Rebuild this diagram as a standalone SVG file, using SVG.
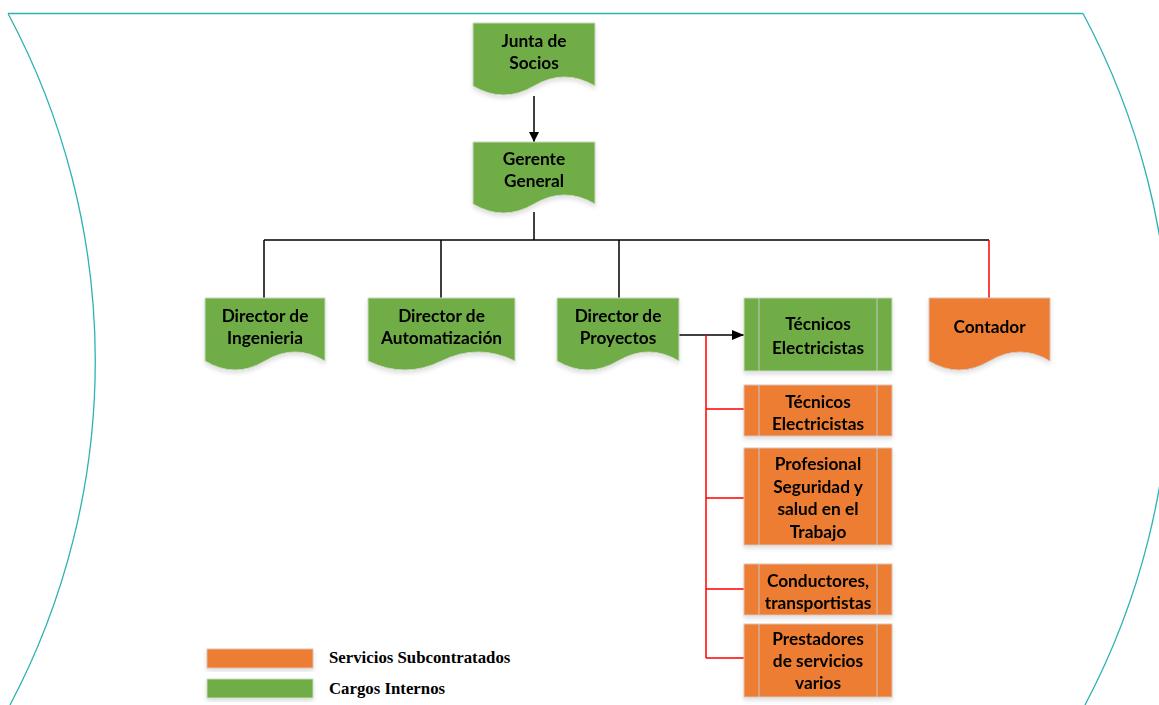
<svg xmlns="http://www.w3.org/2000/svg" width="1159" height="705" viewBox="0 0 1159 705">
<defs>
<style>
.g{fill:#70AD47;stroke:#C9D9BE;stroke-width:1}
.o{fill:#ED7D31;stroke:#D9C2B4;stroke-width:1}
.in{stroke:#C8C8C8;stroke-width:1;fill:none}
.t{font-family:Lato,"Liberation Sans",sans-serif;font-weight:bold;font-size:17.3px;fill:#000;text-anchor:middle;dominant-baseline:central}
.lt{font-family:"Liberation Serif",serif;font-weight:bold;font-size:16.8px;fill:#000}
.k{stroke:#000;stroke-width:1.5;fill:none}
.r{stroke:#FF0000;stroke-width:1.5;fill:none}
.fr{stroke:#2DB2B2;stroke-width:1.3;fill:none}
</style>
<filter id="sh" x="-10%" y="-10%" width="120%" height="130%">
<feDropShadow dx="0" dy="3" stdDeviation="2" flood-color="#000" flood-opacity="0.12"/>
</filter>
<marker id="ah" viewBox="0 0 10 10" refX="10" refY="5" markerWidth="10" markerHeight="10" markerUnits="userSpaceOnUse" orient="auto">
<path d="M0,0 L10,5 L0,10 Z" fill="#000"/>
</marker>
<marker id="ah2" viewBox="0 0 12 10" refX="12" refY="5" markerWidth="12" markerHeight="10" markerUnits="userSpaceOnUse" orient="auto">
<path d="M0,0 L12,5 L0,10 Z" fill="#000"/>
</marker>
</defs>
<rect width="1159" height="705" fill="#fff"/>
<g id="frame">
<path class="fr" d="M8,13.5 H1083"/>
<path class="fr" d="M8,13.5 A736,736 0 0,1 10,705"/>
<path class="fr" d="M1083,13.5 A736,736 0 0,1 1085,705"/>
</g>
<g id="connectors">
<path class="k" d="M534,96 V142" marker-end="url(#ah)"/>
<path class="k" d="M534,212 V240 M264,240 H989 M264,240 V298 M441,240 V298 M619,240 V298"/>
<path class="r" d="M989,240 V298"/>
<path class="k" d="M679,335 H744" marker-end="url(#ah2)"/>
<path class="r" d="M706,335 V658 M706,409 H744 M706,498 H744 M706,589 H744 M706,658 H744"/>
</g>
<g id="junta" filter="url(#sh)">
<path class="g" d="M473,23 H595 V86 Q564.5,68 534,86 Q503.5,104 473,86 Z"/>
<text class="t" x="534" y="40">Junta de</text>
<text class="t" x="534" y="62">Socios</text>
</g>
<g id="gerente" filter="url(#sh)">
<path class="g" d="M473,142 H595 V204 Q564.5,186 534,204 Q503.5,222 473,204 Z"/>
<text class="t" x="534" y="158">Gerente</text>
<text class="t" x="534" y="180">General</text>
</g>
<g id="ingenieria" filter="url(#sh)">
<path class="g" d="M205,298 H325 V361 Q295,343 265,361 Q235,379 205,361 Z"/>
<text class="t" x="265" y="315">Director de</text>
<text class="t" x="265" y="337">Ingenieria</text>
</g>
<g id="automatizacion" filter="url(#sh)">
<path class="g" d="M368,298 H515 V361 Q478,343 441.5,361 Q405,379 368,361 Z"/>
<text class="t" x="441.5" y="315">Director de</text>
<text class="t" x="441.5" y="337">Automatización</text>
</g>
<g id="proyectos" filter="url(#sh)">
<path class="g" d="M557,298 H679 V361 Q648.5,343 618,361 Q587.5,379 557,361 Z"/>
<text class="t" x="618" y="315">Director de</text>
<text class="t" x="618" y="337">Proyectos</text>
</g>
<g id="contador" filter="url(#sh)">
<path class="o" d="M929,298 H1050 V361 Q1020,343 989.5,361 Q959,379 929,361 Z"/>
<text class="t" x="989.5" y="326">Contador</text>
</g>
<g id="tecnicos-internos" filter="url(#sh)">
<rect class="g" x="744" y="298" width="148" height="73"/>
<path class="in" d="M759,298 V371 M877,298 V371"/>
<text class="t" x="818" y="323">Técnicos</text>
<text class="t" x="818" y="347">Electricistas</text>
</g>
<g id="tecnicos-sub" filter="url(#sh)">
<rect class="o" x="744" y="385" width="148" height="51"/>
<path class="in" d="M759,385 V436 M877,385 V436"/>
<text class="t" x="818" y="401">Técnicos</text>
<text class="t" x="818" y="423">Electricistas</text>
</g>
<g id="profesional" filter="url(#sh)">
<rect class="o" x="744" y="448" width="148" height="97"/>
<path class="in" d="M759,448 V545 M877,448 V545"/>
<text class="t" x="818" y="463">Profesional</text>
<text class="t" x="818" y="486">Seguridad y</text>
<text class="t" x="818" y="508">salud en el</text>
<text class="t" x="818" y="531">Trabajo</text>
</g>
<g id="conductores" filter="url(#sh)">
<rect class="o" x="744" y="564" width="148" height="51"/>
<path class="in" d="M759,564 V615 M877,564 V615"/>
<text class="t" x="818" y="580">Conductores,</text>
<text class="t" x="818" y="602">transportistas</text>
</g>
<g id="prestadores" filter="url(#sh)">
<rect class="o" x="744" y="624" width="148" height="73"/>
<path class="in" d="M759,624 V697 M877,624 V697"/>
<text class="t" x="818" y="638">Prestadores</text>
<text class="t" x="818" y="660">de servicios</text>
<text class="t" x="818" y="682">varios</text>
</g>
<g id="legend">
<rect class="o" x="207" y="649" width="106" height="19" filter="url(#sh)"/>
<rect class="g" x="207" y="679" width="106" height="19" filter="url(#sh)"/>
<text class="lt" x="329" y="663">Servicios Subcontratados</text>
<text class="lt" x="329" y="694">Cargos Internos</text>
</g>
</svg>
